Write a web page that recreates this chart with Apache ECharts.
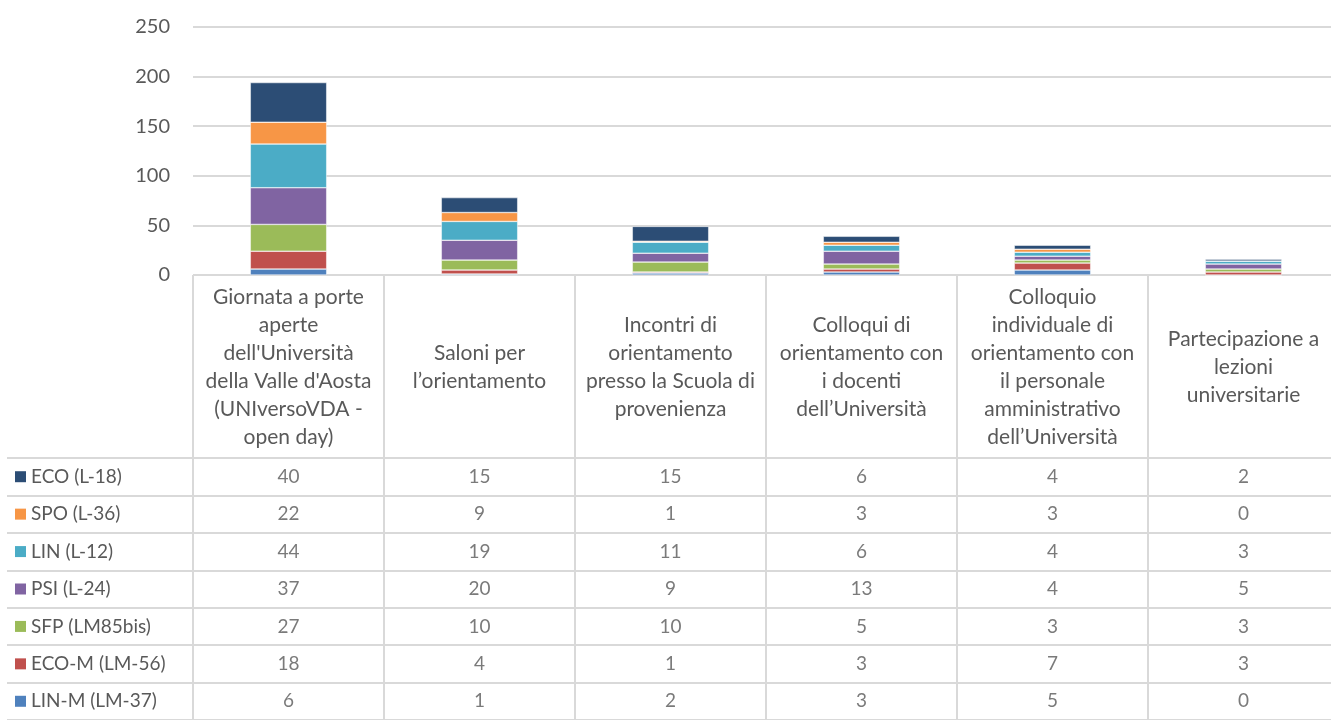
<!DOCTYPE html>
<html>
<head>
<meta charset="utf-8">
<script src="https://cdn.jsdelivr.net/npm/echarts@6/dist/echarts.min.js"></script>
<style>
  html, body { margin: 0; padding: 0; background: #fff; overflow: hidden; }
  #chart { width: 1341px; height: 720px; }
</style>
</head>
<body>
<div id="chart"></div>
<script>
  // categorie (con gli a capo come nel grafico Excel)
  var categories = [
    "Giornata a porte\naperte\ndell'Università\ndella Valle d'Aosta\n(UNIversoVDA -\nopen day)",
    "Saloni per\nl\u2019orientamento",
    "Incontri di\norientamento\npresso la Scuola di\nprovenienza",
    "Colloqui di\norientamento con\ni docenti\ndell\u2019Università",
    "Colloquio\nindividuale di\norientamento con\nil personale\namministrativo\ndell\u2019Università",
    "Partecipazione a\nlezioni\nuniversitarie"
  ]

  // righe della tabella, dall'alto in basso
  var seriesNames = ['ECO (L-18)', 'SPO (L-36)', 'LIN (L-12)', 'PSI (L-24)', 'SFP (LM85bis)', 'ECO-M (LM-56)', 'LIN-M (LM-37)']
  var eco = [40, 15, 15, 6, 4, 2]
  var spo = [22, 9, 1, 3, 3, 0]
  var lin = [44, 19, 11, 6, 4, 3]
  var psi = [37, 20, 9, 13, 4, 5]
  var sfp = [27, 10, 10, 5, 3, 3]
  var ecoM = [18, 4, 1, 3, 7, 3]
  var linM = [6, 1, 2, 3, 5, 0]
  var seriesData = [eco, spo, lin, psi, sfp, ecoM, linM]
  var colors = ['#2C4D75', '#F79646', '#4BACC6', '#8064A2', '#9BBB59', '#C0504D', '#4F81BD']

  var font = 'Lato'
  var textColor = '#595959'
  var lineColor = '#d9d9d9'

  // serie impilate: la prima aggiunta sta in basso (LIN-M)
  var barSeries = []
  for (let i = seriesNames.length - 1; i >= 0; i--) {
    barSeries.push({
      name: seriesNames[i],
      type: 'bar',
      stack: 'tot',
      barWidth: '40%',
      xAxisIndex: 0,
      yAxisIndex: 0,
      itemStyle: { color: colors[i], borderColor: '#ffffff', borderWidth: 0.5 },
      data: seriesData[i]
    })
  }

  // celle della tabella dati
  var cells = []
  for (let i = 0; i < seriesNames.length; i++) {
    for (let j = 0; j < categories.length; j++) {
      cells.push([j, i, seriesData[i][j]])
    }
  }

  var rich = {}
  for (let i = 0; i < colors.length; i++) {
    rich['sq' + i] = { width: 11, height: 11, backgroundColor: colors[i] }
  }
  rich.t = { fontFamily: font, fontSize: 19, color: textColor, padding: [0, 0, 0, 5] }

  var chart = echarts.init(document.getElementById('chart'))
  chart.setOption({
    animation: false,
    textStyle: { fontFamily: font },
    grid: [
      { left: 193, width: 1146, top: 27, height: 248 },
      { left: 193, width: 1146, top: 458, height: 267 }
    ],
    xAxis: [
      {
        type: 'category',
        gridIndex: 0,
        data: categories,
        axisLine: { lineStyle: { color: lineColor, width: 1 } },
        axisTick: { show: true, interval: 0, length: 183, lineStyle: { color: lineColor, width: 2 } },
        axisLabel: {
          interval: 0,
          margin: 92,
          verticalAlign: 'middle',
          fontFamily: font,
          fontSize: 21,
          lineHeight: 28,
          color: textColor
        }
      },
      {
        type: 'category',
        gridIndex: 1,
        data: categories,
        axisLine: { show: false },
        axisTick: { show: false },
        axisLabel: { show: false },
        splitLine: { show: true, interval: 0, lineStyle: { color: lineColor, width: 2 } }
      }
    ],
    yAxis: [
      {
        type: 'value',
        gridIndex: 0,
        min: 0,
        max: 250,
        interval: 50,
        axisLine: { show: false },
        axisTick: { show: false },
        axisLabel: { margin: 23, fontFamily: font, fontSize: 20, color: textColor },
        splitLine: { lineStyle: { color: lineColor, width: 2 } }
      },
      {
        type: 'category',
        gridIndex: 1,
        inverse: true,
        data: seriesNames,
        axisLine: { show: true, lineStyle: { color: lineColor, width: 2 } },
        axisTick: { show: true, interval: 0, length: 186, lineStyle: { color: lineColor, width: 2 } },
        splitLine: { show: true, interval: 0, lineStyle: { color: lineColor, width: 2 } },
        axisLabel: {
          interval: 0,
          align: 'left',
          margin: 178,
          formatter: function (value, index) {
            return '{sq' + index + '|}{t|' + value + '}'
          },
          rich: rich
        }
      },
      {
        type: 'category',
        gridIndex: 1,
        inverse: true,
        data: seriesNames,
        offset: 186,
        axisLine: { show: true, lineStyle: { color: lineColor, width: 2 } },
        axisTick: { show: false },
        axisLabel: { show: false },
        splitLine: { show: false }
      }
    ],
    series: barSeries.concat([
      {
        type: 'scatter',
        xAxisIndex: 1,
        yAxisIndex: 1,
        symbolSize: 1,
        silent: true,
        itemStyle: { color: 'transparent' },
        label: {
          show: true,
          position: 'inside',
          fontFamily: font,
          fontSize: 19,
          color: textColor,
          formatter: function (p) { return p.value[2] }
        },
        data: cells
      }
    ])
  })
</script>
</body>
</html>
